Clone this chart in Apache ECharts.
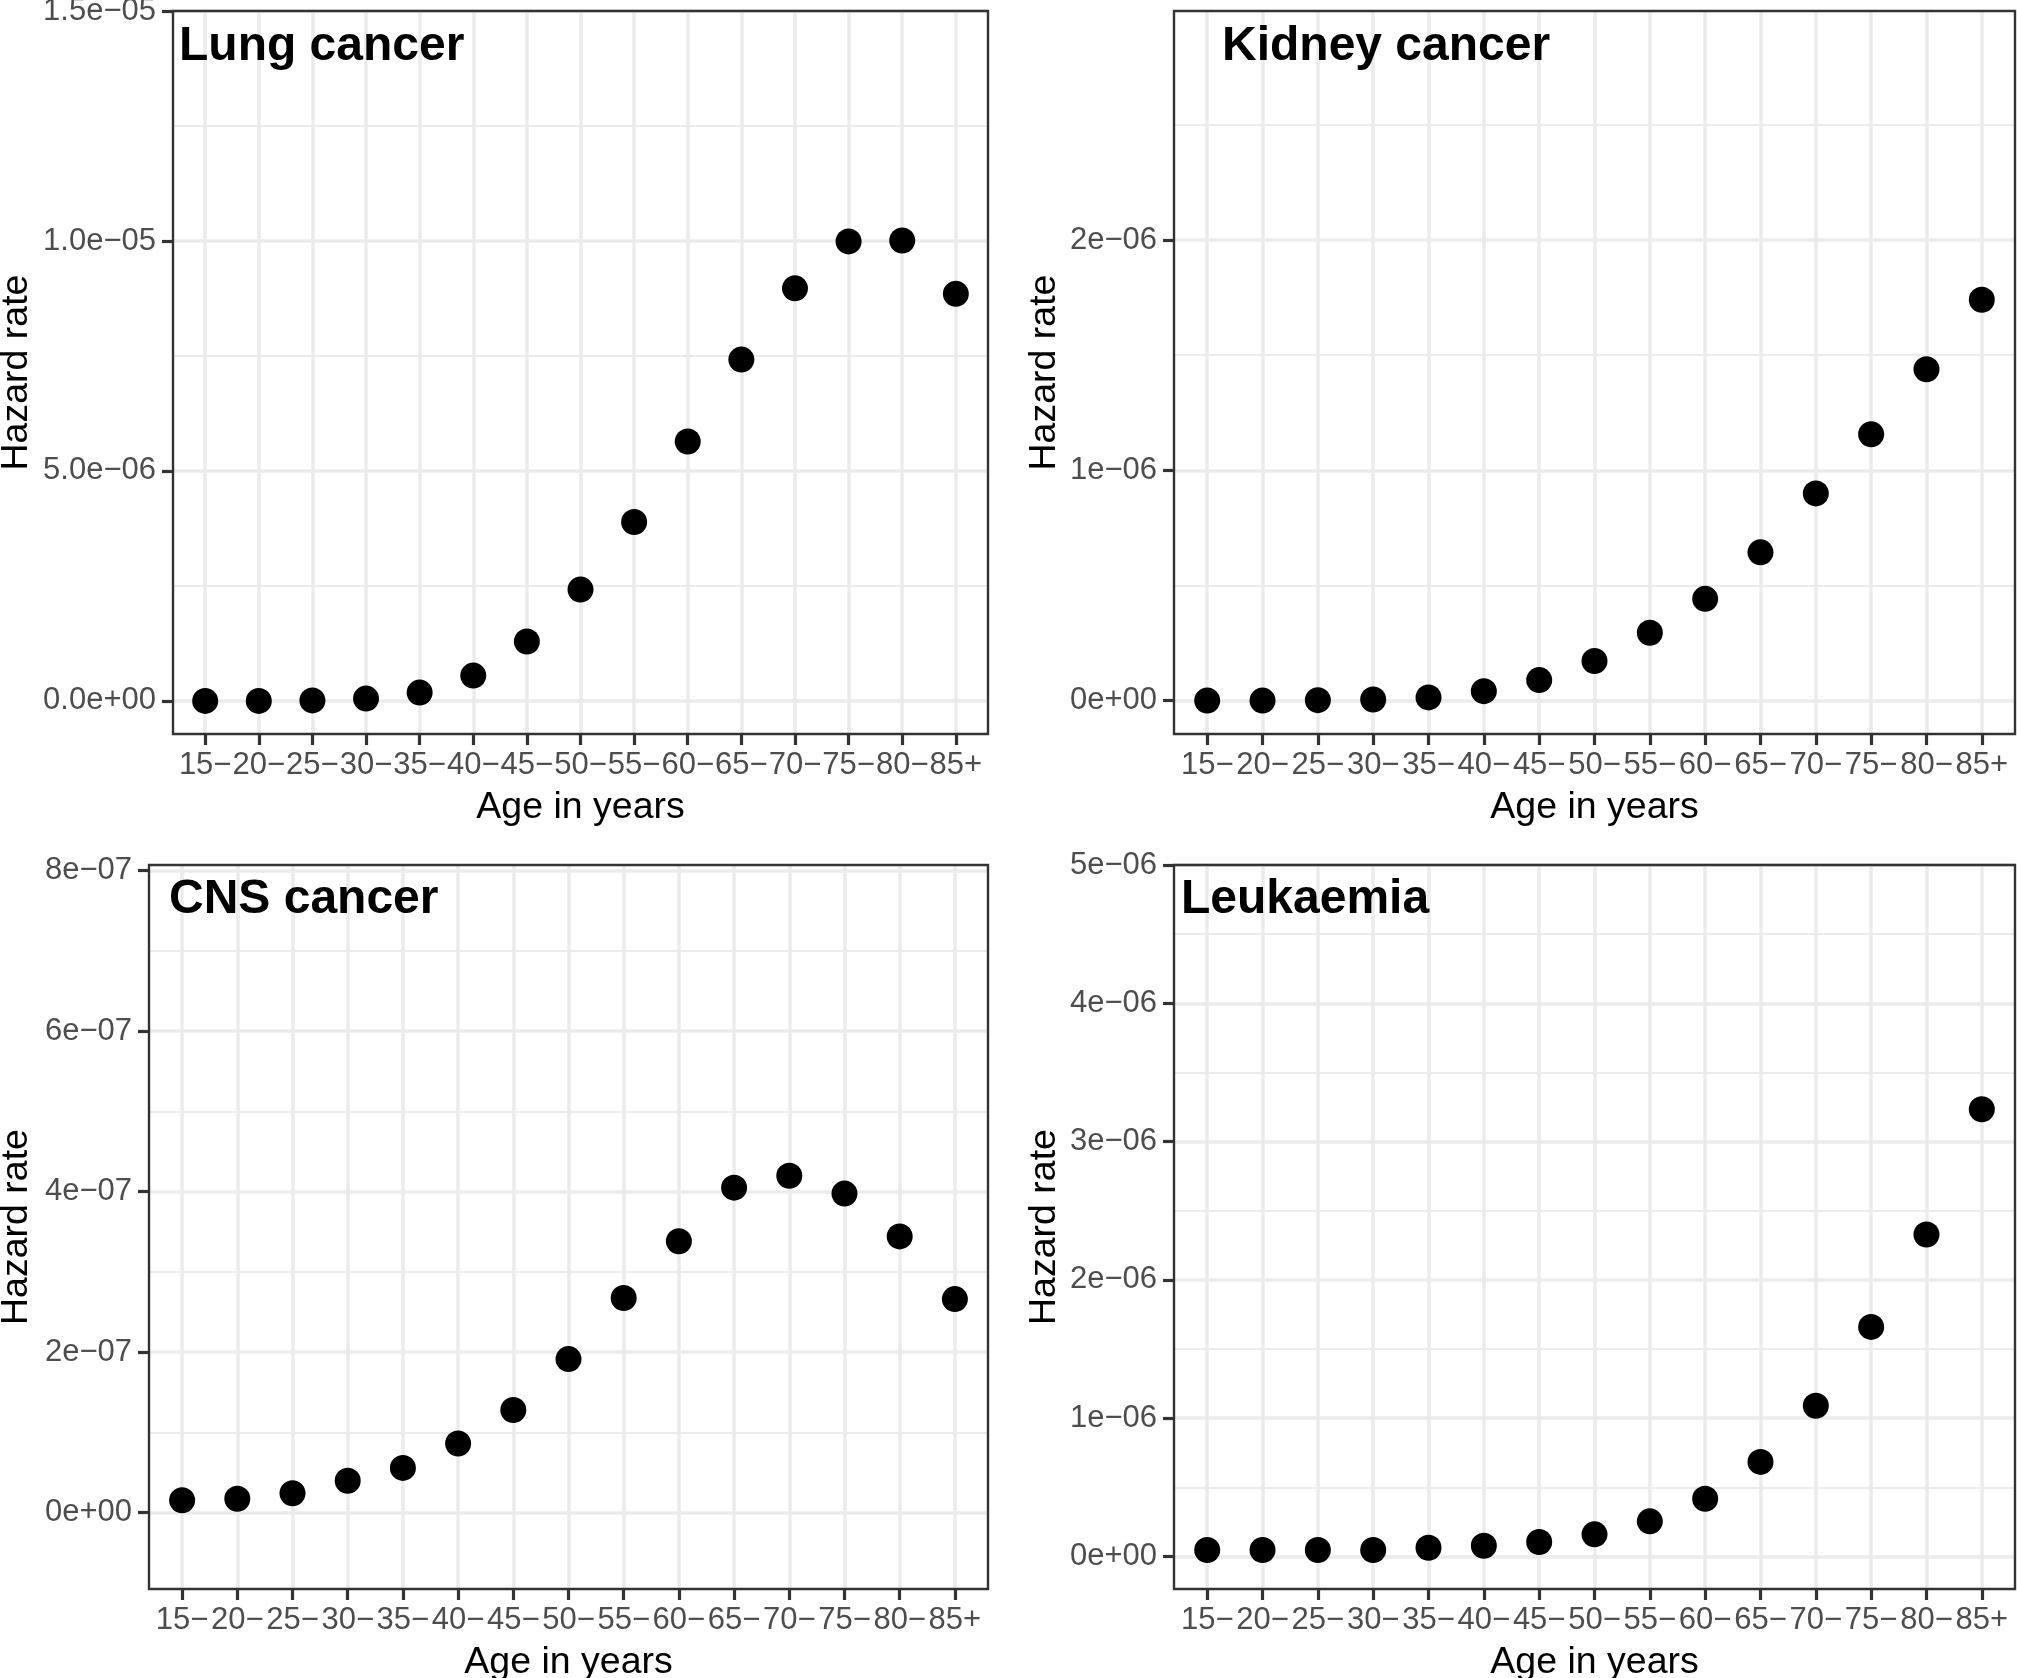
<!DOCTYPE html>
<html>
<head>
<meta charset="utf-8">
<script src="https://cdn.jsdelivr.net/npm/echarts@6/dist/echarts.min.js"></script>
<style>
  html, body { margin: 0; padding: 0; background: #fff; }
  #chart { width: 2017px; height: 1678px; }
</style>
</head>
<body>
<div id="chart"></div>
<script>
// age bands on the x axis
const ageGroups = ['15−', '20−', '25−', '30−', '35−', '40−', '45−', '50−', '55−', '60−', '65−', '70−', '75−', '80−', '85+'];

// hazard rates
const lungRate = [0.00, 0.00, 0.01, 0.05, 0.18, 0.55, 1.29, 2.42, 3.89, 5.64, 7.42, 8.97, 9.99, 10.01, 8.85];        // x 1e-6
const kidneyRate = [0.000, 0.000, 0.002, 0.005, 0.014, 0.041, 0.089, 0.172, 0.295, 0.442, 0.644, 0.900, 1.157, 1.439, 1.741]; // x 1e-6
const cnsRate = [0.155, 0.175, 0.243, 0.398, 0.559, 0.863, 1.280, 1.914, 2.675, 3.383, 4.050, 4.198, 3.976, 3.443, 2.662];  // x 1e-7
const leukRate = [0.047, 0.047, 0.047, 0.047, 0.063, 0.078, 0.105, 0.160, 0.254, 0.418, 0.684, 1.090, 1.660, 2.328, 3.234];  // x 1e-6

// y axis breaks and labels
const lungTicks = [0, 5e-6, 1e-5, 1.5e-5];
const lungTickLabels = ['0.0e+00', '5.0e−06', '1.0e−05', '1.5e−05'];
const lungMinor = [2.5e-6, 7.5e-6, 1.25e-5];

const kidneyTicks = [0, 1e-6, 2e-6];
const kidneyTickLabels = ['0e+00', '1e−06', '2e−06'];
const kidneyMinor = [0.5e-6, 1.5e-6, 2.5e-6];

const cnsTicks = [0, 2e-7, 4e-7, 6e-7, 8e-7];
const cnsTickLabels = ['0e+00', '2e−07', '4e−07', '6e−07', '8e−07'];
const cnsMinor = [1e-7, 3e-7, 5e-7, 7e-7];

const leukTicks = [0, 1e-6, 2e-6, 3e-6, 4e-6, 5e-6];
const leukTickLabels = ['0e+00', '1e−06', '2e−06', '3e−06', '4e−06', '5e−06'];
const leukMinor = [0.5e-6, 1.5e-6, 2.5e-6, 3.5e-6, 4.5e-6];

const FONT = "'Liberation Sans', Helvetica, Arial, sans-serif";
const GREY_TEXT = '#4D4D4D';
const DARK = '#333333';
const GRIDLINE = '#EBEBEB';

const panels = [
    { title: 'Lung cancer', values: lungRate, unit: 1e-6, min: -0.72e-6, max: 15e-6,
      ticks: lungTicks, labels: lungTickLabels, minor: lungMinor,
      grid: { left: 173, top: 11, width: 815, height: 723 }, nameGap: 137, titlePos: { left: 179, top: 23 } },
    { title: 'Kidney cancer', values: kidneyRate, unit: 1e-6, min: -0.145e-6, max: 2.995e-6,
      ticks: kidneyTicks, labels: kidneyTickLabels, minor: kidneyMinor,
      grid: { left: 1174, top: 11, width: 841, height: 723 }, nameGap: 110, titlePos: { left: 1222, top: 23 } },
    { title: 'CNS cancer', values: cnsRate, unit: 1e-7, min: -0.95e-7, max: 8.07e-7,
      ticks: cnsTicks, labels: cnsTickLabels, minor: cnsMinor,
      grid: { left: 149, top: 865, width: 839, height: 724 }, nameGap: 113, titlePos: { left: 169, top: 876 } },
    { title: 'Leukaemia', values: leukRate, unit: 1e-6, min: -0.235e-6, max: 5e-6,
      ticks: leukTicks, labels: leukTickLabels, minor: leukMinor,
      grid: { left: 1174, top: 865, width: 841, height: 724 }, nameGap: 110, titlePos: { left: 1181, top: 876 } }
];

const catIndex = ageGroups.map((_, i) => i);
const tickStyle = { color: DARK, width: 3.2 };
const labelStyle = { color: GREY_TEXT, fontSize: 31, fontFamily: FONT };
const nameStyle = { color: '#000', fontSize: 37.5, fontFamily: FONT };

const chart = echarts.init(document.getElementById('chart'));

const option = {
    animation: false,
    backgroundColor: '#fff',
    title: panels.map(p => ({
        text: p.title, left: p.titlePos.left, top: p.titlePos.top, padding: 0,
        textStyle: { color: '#000', fontSize: 48, fontWeight: 'bold', fontFamily: FONT }
    })),
    grid: panels.map(p => ({
        ...p.grid, show: true, borderColor: DARK, borderWidth: 2.4,
        backgroundColor: 'transparent', outerBoundsMode: 'none', z: 1
    })),
    xAxis: panels.map((p, i) => ({
        gridIndex: i, type: 'value', min: -0.6, max: 14.6,
        axisLine: { show: false, onZero: false },
        axisTick: { show: true, customValues: catIndex, length: 11, lineStyle: tickStyle },
        axisLabel: { customValues: catIndex, formatter: v => ageGroups[Math.round(v)], margin: 16, ...labelStyle },
        splitLine: { show: true, lineStyle: { color: GRIDLINE, width: 3.5 } },
        name: 'Age in years', nameLocation: 'middle', nameGap: 55, nameTextStyle: nameStyle
    })),
    yAxis: [],
    series: []
};

panels.forEach((p, i) => {
    const tol = (p.max - p.min) * 1e-4;
    // major breaks with labels
    option.yAxis.push({
        gridIndex: i, type: 'value', min: p.min, max: p.max,
        axisLine: { show: false, onZero: false },
        axisTick: { show: true, customValues: p.ticks, length: 11, lineStyle: tickStyle },
        axisLabel: {
            customValues: p.ticks, margin: 17, ...labelStyle,
            formatter: v => {
                const k = p.ticks.findIndex(t => Math.abs(t - v) < tol);
                return k >= 0 ? p.labels[k] : '';
            }
        },
        splitLine: { show: true, lineStyle: { color: GRIDLINE, width: 3.5 } },
        name: 'Hazard rate', nameLocation: 'middle', nameGap: p.nameGap, nameTextStyle: nameStyle
    });
    // minor gridlines
    option.yAxis.push({
        gridIndex: i, type: 'value', min: p.min, max: p.max,
        axisLine: { show: false, onZero: false },
        axisTick: { show: false, customValues: p.minor },
        axisLabel: { show: false, customValues: p.minor },
        splitLine: { show: true, lineStyle: { color: GRIDLINE, width: 1.8 } }
    });
    option.series.push({
        type: 'scatter', xAxisIndex: i, yAxisIndex: 2 * i,
        data: p.values.map((v, j) => [j, v * p.unit]),
        symbol: 'circle', symbolSize: 26,
        itemStyle: { color: '#000', opacity: 1 },
        silent: true, z: 3
    });
});

chart.setOption(option);
</script>
</body>
</html>
